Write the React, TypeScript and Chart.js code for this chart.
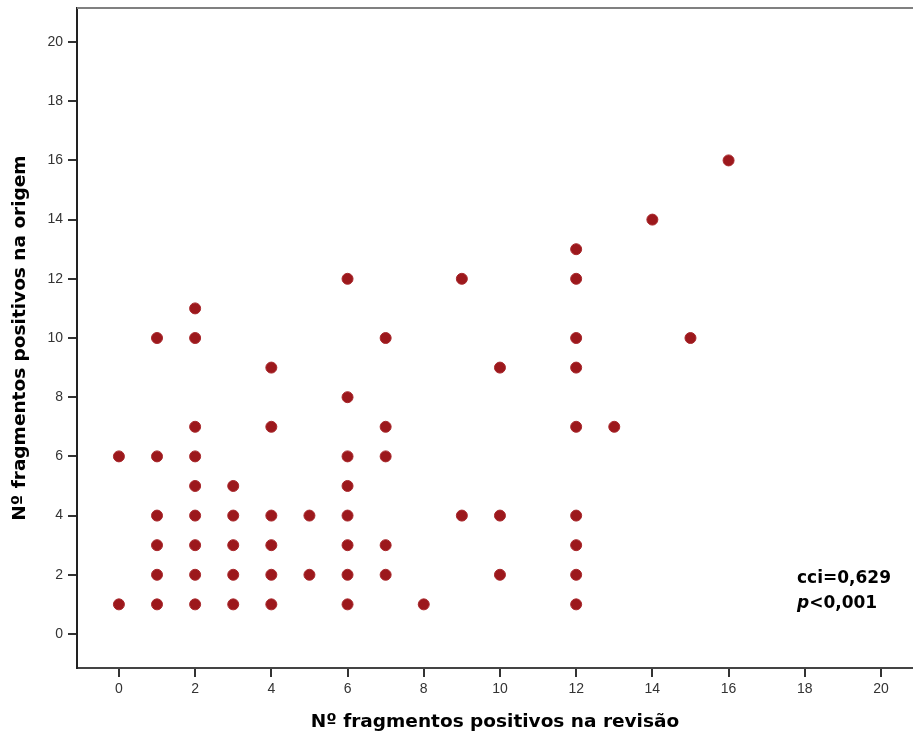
import React, { useEffect, useRef } from "react";
import { Chart, registerables } from "chart.js";

Chart.register(...registerables);

// N.º fragmentos positivos na revisão (x) and na origem (y), one entry per point
const revisao = [
  0, 0,
  1, 1, 1, 1, 1, 1,
  2, 2, 2, 2, 2, 2, 2, 2, 2,
  3, 3, 3, 3, 3,
  4, 4, 4, 4, 4, 4,
  5, 5,
  6, 6, 6, 6, 6, 6, 6, 6,
  7, 7, 7, 7, 7,
  8,
  9, 9,
  10, 10, 10,
  12, 12, 12, 12, 12, 12, 12, 12, 12,
  13, 14, 15, 16,
];
const origem = [
  6, 1,
  10, 6, 4, 3, 2, 1,
  11, 10, 7, 6, 5, 4, 3, 2, 1,
  5, 4, 3, 2, 1,
  9, 7, 4, 3, 2, 1,
  4, 2,
  12, 8, 6, 5, 4, 3, 2, 1,
  10, 7, 6, 3, 2,
  1,
  12, 4,
  9, 4, 2,
  13, 12, 10, 9, 7, 4, 3, 2, 1,
  7, 14, 10, 16,
];

const xTicks = [0, 2, 4, 6, 8, 10, 12, 14, 16, 18, 20];
const yTicks = [0, 2, 4, 6, 8, 10, 12, 14, 16, 18, 20];

const xTitle = "Nº fragmentos positivos na revisão";
const yTitle = "Nº fragmentos positivos na origem";
const statLine1 = "cci=0,629";
const statLine2Italic = "p";
const statLine2Rest = "<0,001";

const TICK_FONT = "'Liberation Sans', Arial, sans-serif";
const BOLD_FONT = "'DejaVu Sans', Verdana, sans-serif";

const extrasPlugin = {
  id: "extras",
  afterDraw(chart: any) {
    const { ctx, chartArea } = chart;
    ctx.save();
    // top frame line
    ctx.strokeStyle = "#808080";
    ctx.lineWidth = 2;
    ctx.beginPath();
    ctx.moveTo(chartArea.left, chartArea.top);
    ctx.lineTo(chart.width, chartArea.top);
    ctx.stroke();
    // annotation
    ctx.fillStyle = "#000";
    ctx.textBaseline = "alphabetic";
    ctx.textAlign = "left";
    const x0 = 797;
    ctx.font = `bold 17px ${BOLD_FONT}`;
    ctx.fillText(statLine1, x0, 583);
    ctx.font = `italic bold 17px ${BOLD_FONT}`;
    ctx.fillText(statLine2Italic, x0, 608);
    const w = ctx.measureText(statLine2Italic).width;
    ctx.font = `bold 17px ${BOLD_FONT}`;
    ctx.fillText(statLine2Rest, x0 + w, 608);
    ctx.restore();
  },
};

export default function App() {
  const ref = useRef<HTMLCanvasElement>(null);
  useEffect(() => {
    if (!ref.current) return;
    const data = revisao.map((x, i) => ({ x, y: origem[i] }));
    const chart = new Chart(ref.current, {
      type: "scatter",
      data: {
        datasets: [
          {
            data,
            backgroundColor: "#9C181C",
            borderColor: "#A8282C",
            borderWidth: 1,
            pointRadius: 5.5,
            pointHoverRadius: 5.5,
          },
        ],
      },
      options: {
        animation: false,
        responsive: false,
        maintainAspectRatio: false,
        layout: { autoPadding: false, padding: { top: 8, right: 0, left: 0, bottom: 0 } },
        plugins: {
          legend: { display: false },
          tooltip: { enabled: false },
        },
        scales: {
          x: {
            type: "linear",
            min: -1.1,
            max: 20.84,
            afterFit(scale: any) {
              scale.height = 74;
              scale.paddingLeft = 0;
              scale.paddingRight = 0;
            },
            afterBuildTicks(scale: any) {
              scale.ticks = xTicks.map((v) => ({ value: v }));
            },
            ticks: {
              color: "#333",
              font: { family: TICK_FONT, size: 14 },
              padding: 4,
              maxRotation: 0,
              autoSkip: false,
              callback: (v: any) => String(v),
            },
            grid: {
              drawOnChartArea: false,
              drawTicks: true,
              tickLength: 9,
              color: "#333",
              lineWidth: 2,
            },
            border: { display: true, color: "#444", width: 2 },
            title: {
              display: true,
              text: xTitle,
              color: "#000",
              font: { family: BOLD_FONT, size: 18.5, weight: "bold" },
              padding: { top: 0, bottom: 9 },
            },
          },
          y: {
            type: "linear",
            min: -1.15,
            max: 21.15,
            afterFit(scale: any) {
              scale.width = 77;
              scale.paddingTop = 0;
              scale.paddingBottom = 0;
            },
            afterBuildTicks(scale: any) {
              scale.ticks = yTicks.map((v) => ({ value: v }));
            },
            ticks: {
              color: "#333",
              font: { family: TICK_FONT, size: 14 },
              padding: 5,
              autoSkip: false,
              callback: (v: any) => String(v),
            },
            grid: {
              drawOnChartArea: false,
              drawTicks: true,
              tickLength: 9,
              color: "#333",
              lineWidth: 2,
            },
            border: { display: true, color: "#222", width: 2 },
            title: {
              display: true,
              text: yTitle,
              color: "#000",
              font: { family: BOLD_FONT, size: 18.5, weight: "bold" },
              padding: { top: 9, bottom: 0 },
            },
          },
        },
      },
      plugins: [extrasPlugin],
    });
    return () => chart.destroy();
  }, []);
  return (
    <div style={{ position: "absolute", left: 0, top: 0, width: 913, height: 742, background: "#fff" }}>
      <canvas ref={ref} width={913} height={742} style={{ display: "block" }} />
    </div>
  );
}
